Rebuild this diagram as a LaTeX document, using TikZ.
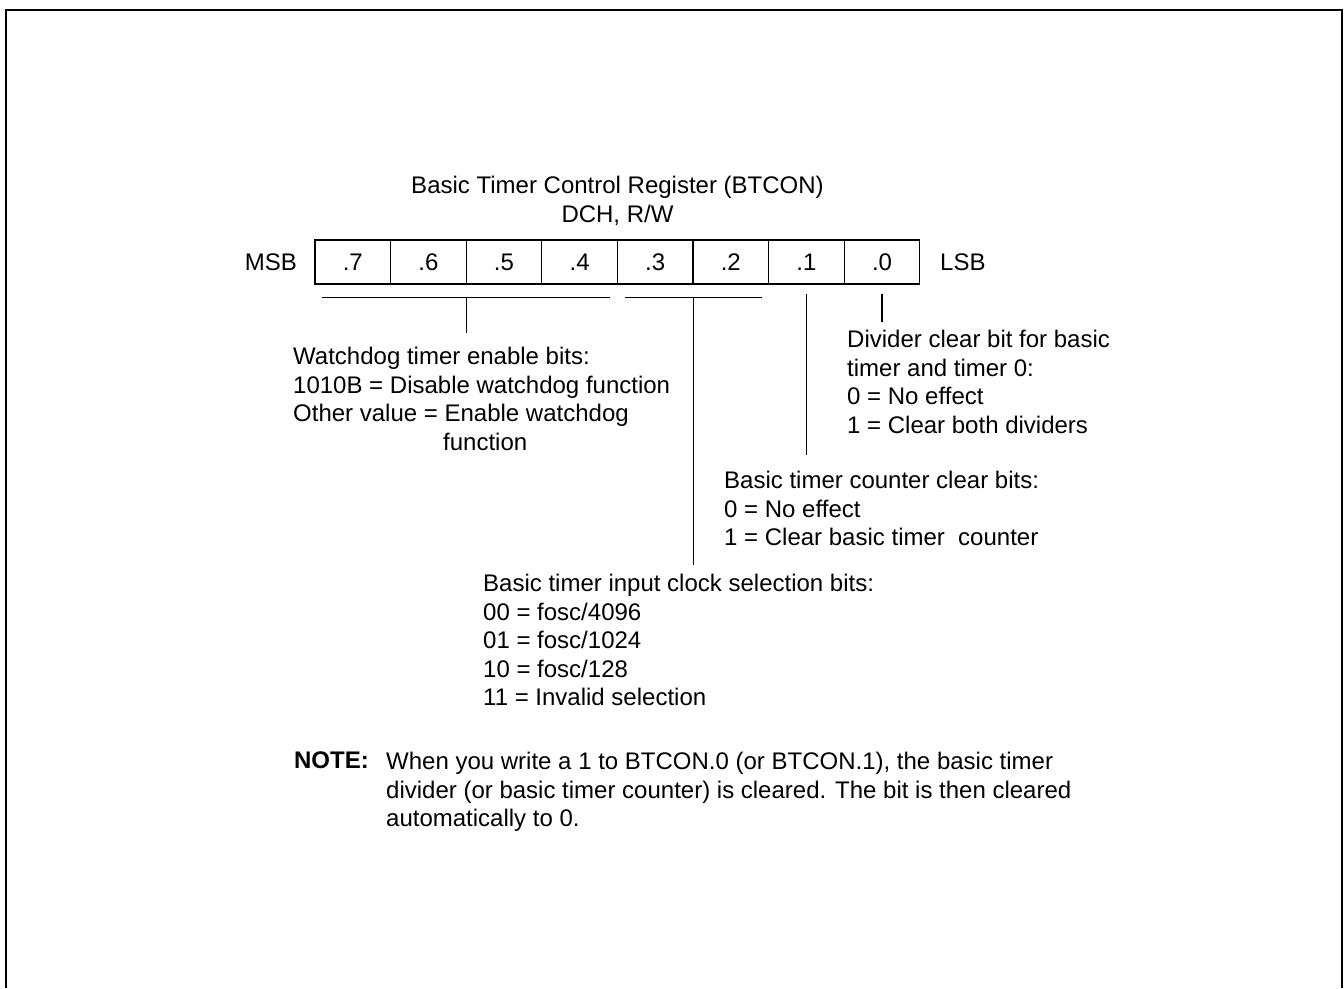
\documentclass[tikz,border=0pt]{standalone}
\usepackage{fontspec}
\setmainfont{Liberation Sans}
\begin{document}
\begin{tikzpicture}[
    x=1pt, y=-1pt,
    every node/.style={font=\fontsize{24}{28.5}\selectfont},
    cell/.style={draw, line width=1.2pt, minimum width=75.6pt, minimum height=44pt, inner sep=0pt},
    note/.style={anchor=north west, align=left, inner sep=0pt},
    wire/.style={line width=1.2pt}
]
\useasboundingbox (0,0) rectangle (1344,988);

% Frame (open at the bottom)
\draw[line width=2pt] (6,988) -- (6,10) -- (1342,10) -- (1342,988);

% Title
\node[align=center, anchor=north, inner sep=0pt] (title) at (617.5,176) {Basic Timer Control Register (BTCON)\\DCH, R/W};

% Register cells .7 ... .0
\foreach \b [count=\i from 0] in {7,6,5,4,3,2,1,0}
    \node[cell] (b\b) at ({352.8+75.6*\i},262) {.\b};

\node[anchor=east, inner sep=0pt] (msb) at (297,262) {MSB};
\node[anchor=west, inner sep=0pt] (lsb) at (940,262) {LSB};

% Brackets under the bit groups
\coordinate (wdL) at ([xshift=8pt,yshift=-13pt]b7.south west);
\coordinate (wdR) at ([xshift=-8pt,yshift=-13pt]b4.south east);
\coordinate (wdT) at ([yshift=-13pt]b6.south east);
\coordinate (ckL) at ([xshift=8pt,yshift=-13pt]b3.south west);
\coordinate (ckR) at ([xshift=-7pt,yshift=-13pt]b2.south east);
\coordinate (ckT) at ([yshift=-13pt]b3.south east);
\coordinate (cnT) at ([yshift=-9pt]b1.south);
\coordinate (dvT) at ([yshift=-9pt]b0.south);

% Descriptions
\node[note] (wdtext) at (293,347) {Watchdog timer enable bits:\\1010B = Disable watchdog function\\Other value = Enable watchdog\\\hspace*{150pt}function};
\node[note] (dvtext) at (847,330) {Divider clear bit for basic\\timer and timer 0:\\0 = No effect\\1 = Clear both dividers};
\node[note] (cntext) at (724,471) {Basic timer counter clear bits:\\0 = No effect\\1 = Clear basic timer\ \ counter};
\node[note] (cktext) at (483,574) {Basic timer input clock selection bits:\\00 = fosc/4096\\01 = fosc/1024\\10 = fosc/128\\11 = Invalid selection};

% Note
\node[note, anchor=north east, font=\fontsize{24}{28.5}\selectfont\bfseries] (notelbl) at (369,752) {NOTE:};
\node[note] (notetext) at (386,752) {When you write a 1 to BTCON.0 (or BTCON.1), the basic timer\\divider (or basic timer counter) is cleared. The bit is then cleared\\automatically to 0.};

% Leader lines
\draw[wire] (wdL) -- (wdR);
\draw[wire] (ckL) -- (ckR);
\draw[wire, shorten >=14pt] (wdT) -- (wdT |- wdtext.north);
\draw[wire, shorten >=9pt] (ckT) -- (ckT |- cktext.north);
\draw[wire, shorten >=16pt] (cnT) -- (cnT |- cntext.north);
\draw[wire, shorten >=8pt] (dvT) -- (dvT |- dvtext.north);

\end{tikzpicture}
\end{document}
